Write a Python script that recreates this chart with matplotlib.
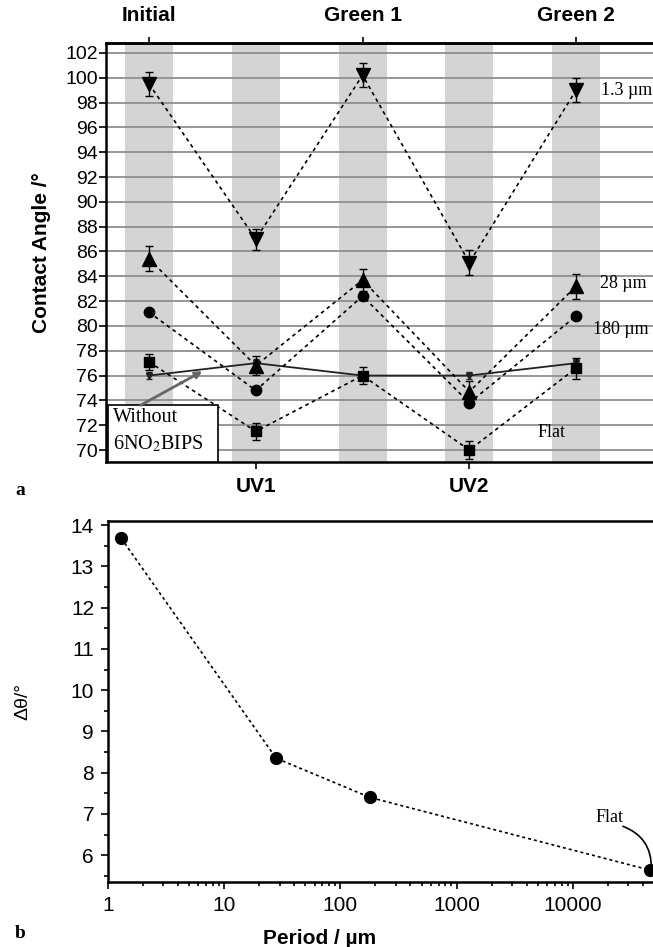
"""Contact angle switching (a) and contrast vs. grating period (b)."""

import matplotlib
matplotlib.use("Agg")
import matplotlib.pyplot as plt
from matplotlib.patches import Rectangle
from matplotlib.ticker import FixedLocator, FuncFormatter, MultipleLocator

plt.rcParams["font.family"] = ["Liberation Sans", "DejaVu Sans"]
plt.rcParams["mathtext.fontset"] = "stix"
SERIF = ["Liberation Serif", "DejaVu Serif"]

# ---- panel a data ----
steps = ["Initial", "UV1", "Green 1", "UV2", "Green 2"]
step_pos = [1, 2, 3, 4, 5]

ca_13um = [99.5, 87.0, 100.2, 85.1, 99.0]
ca_13um_err = [0.95, 0.85, 0.95, 1.0, 0.95]
ca_28um = [85.4, 76.8, 83.7, 74.7, 83.2]
ca_28um_err = [1.0, 0.75, 0.9, 0.9, 1.0]
ca_180um = [81.1, 74.8, 82.4, 73.8, 80.8]
ca_flat = [77.1, 71.5, 76.0, 70.0, 76.6]
ca_flat_err = [0.65, 0.7, 0.7, 0.75, 0.85]
ca_ref = [76.0, 77.0, 76.0, 76.0, 77.0]
ca_ref_err = [0.3, 0.3, 0.3, 0.3, 0.3]

# ---- panel b data ----
period_um = [1.3, 28, 180, 46000]
delta_theta = [13.68, 8.35, 7.4, 5.64]

fig = plt.figure(figsize=(6.53, 9.47), dpi=100)

# ---------------- panel a ----------------
ax = fig.add_axes([0.1623, 0.5121, 0.8377, 0.4425])
ax.set_xlim(0.597, 5.72)
ax.set_ylim(69.03, 102.8)

for x in step_pos:
    ax.axvspan(x - 0.225, x + 0.225, color="#d4d4d4", lw=0, zorder=0)
for y in range(70, 103, 2):
    ax.axhline(y, color="#8f8f8f", lw=1.3, zorder=1)

dash = dict(ls=(0, (2.2, 2.2)), lw=1.2, color="black")
ax.errorbar(step_pos, ca_13um, yerr=ca_13um_err, marker="v", ms=10,
            capsize=3, elinewidth=1, capthick=1, zorder=4, **dash)
ax.errorbar(step_pos, ca_28um, yerr=ca_28um_err, marker="^", ms=10,
            capsize=3, elinewidth=1, capthick=1, zorder=4, **dash)
ax.plot(step_pos, ca_180um, marker="o", ms=7.5, zorder=4, **dash)
ax.errorbar(step_pos, ca_flat, yerr=ca_flat_err, marker="s", ms=6.5,
            capsize=3, elinewidth=1, capthick=1, zorder=4, **dash)
ax.errorbar(step_pos, ca_ref, yerr=ca_ref_err, marker="v", ms=5,
            color="#222222", lw=1.3, capsize=2, elinewidth=1, zorder=3)

ax.text(5.23, 99.0, "1.3 µm", family=SERIF, fontsize=13, va="center")
ax.text(5.22, 83.4, "28 µm", family=SERIF, fontsize=13, va="center")
ax.text(5.16, 79.7, "180 µm", family=SERIF, fontsize=13, va="center")
ax.text(4.77, 71.4, "Flat", family=SERIF, fontsize=13, ha="center",
        va="center")

# "Without 6NO2BIPS" box with arrow
ax.add_patch(Rectangle((0.616, 69.03), 1.03, 4.57, facecolor="white",
                       edgecolor="black", lw=1.2, zorder=5, clip_on=False))
ax.text(0.665, 72.6, "Without", family=SERIF, fontsize=14.5, va="center",
        zorder=6)
ax.text(0.665, 70.5, "6NO$_2$BIPS", family=SERIF, fontsize=14.5,
        va="center", zorder=6)
ax.annotate("", xy=(1.50, 76.35), xytext=(0.92, 73.6),
            arrowprops=dict(arrowstyle="-|>", color="#666666", lw=2,
                            mutation_scale=10, shrinkA=0, shrinkB=0),
            zorder=6)

ax.set_yticks(range(70, 103, 2))
ax.set_xticks([2, 4])
ax.set_xticklabels(["UV1", "UV2"], fontweight="bold", fontsize=15)
ax.tick_params(axis="y", direction="out", length=5, width=1.2,
               labelsize=14, pad=1)
ax.tick_params(axis="x", direction="out", length=5, width=1.2, pad=6)

top = ax.secondary_xaxis("top")
top.set_xticks([1, 3, 5])
top.set_xticklabels(["Initial", "Green 1", "Green 2"], fontweight="bold",
                    fontsize=15)
top.tick_params(direction="out", length=4, width=1.2, pad=9)
top.spines["top"].set_linewidth(1.8)

for s in ("left", "bottom", "top"):
    ax.spines[s].set_linewidth(1.8)
ax.spines["right"].set_visible(False)
ax.set_ylabel("Contact Angle /°", fontweight="bold", fontsize=15,
              labelpad=10)

fig.text(0.023, 0.482, "a", family=SERIF, fontweight="bold", fontsize=14,
         va="center")

# ---------------- panel b ----------------
bx = fig.add_axes([0.1654, 0.0686, 0.8346, 0.3812])
bx.set_xscale("log")
bx.set_xlim(1, 10 ** 4.69)
bx.set_ylim(5.35, 14.1)
bx.plot(period_um, delta_theta, marker="o", ms=8.5, color="black",
        ls=(0, (1.8, 1.8)), lw=1.2)

bx.annotate("", xy=(period_um[-1] * 1.03, delta_theta[-1] + 0.05),
            xytext=(27000, 6.7),
            arrowprops=dict(arrowstyle="-", color="black", lw=1.2,
                            connectionstyle="arc3,rad=-0.35",
                            shrinkA=0, shrinkB=0))
bx.text(20500, 6.92, "Flat", family=SERIF, fontsize=13, ha="center",
        va="center")

bx.yaxis.set_major_locator(MultipleLocator(1))
bx.yaxis.set_minor_locator(MultipleLocator(0.5))
bx.xaxis.set_major_locator(FixedLocator([1, 10, 100, 1000, 10000]))
bx.xaxis.set_major_formatter(FuncFormatter(lambda v, p: f"{v:g}"))
bx.tick_params(which="major", direction="out", length=5, width=1.2,
               labelsize=15, pad=5)
bx.tick_params(which="minor", direction="out", length=3, width=1.2)
for s in ("left", "bottom", "top"):
    bx.spines[s].set_linewidth(1.8)
bx.spines["right"].set_visible(False)
bx.set_xlabel("Period / µm", fontweight="bold", fontsize=15)
bx.xaxis.set_label_coords(0.388, -0.13)
bx.set_ylabel("Δθ/°", fontsize=14, labelpad=28)

fig.text(0.023, 0.005, "b", family=SERIF, fontweight="bold", fontsize=14,
         va="bottom")

fig.savefig("out.png", dpi=100)
